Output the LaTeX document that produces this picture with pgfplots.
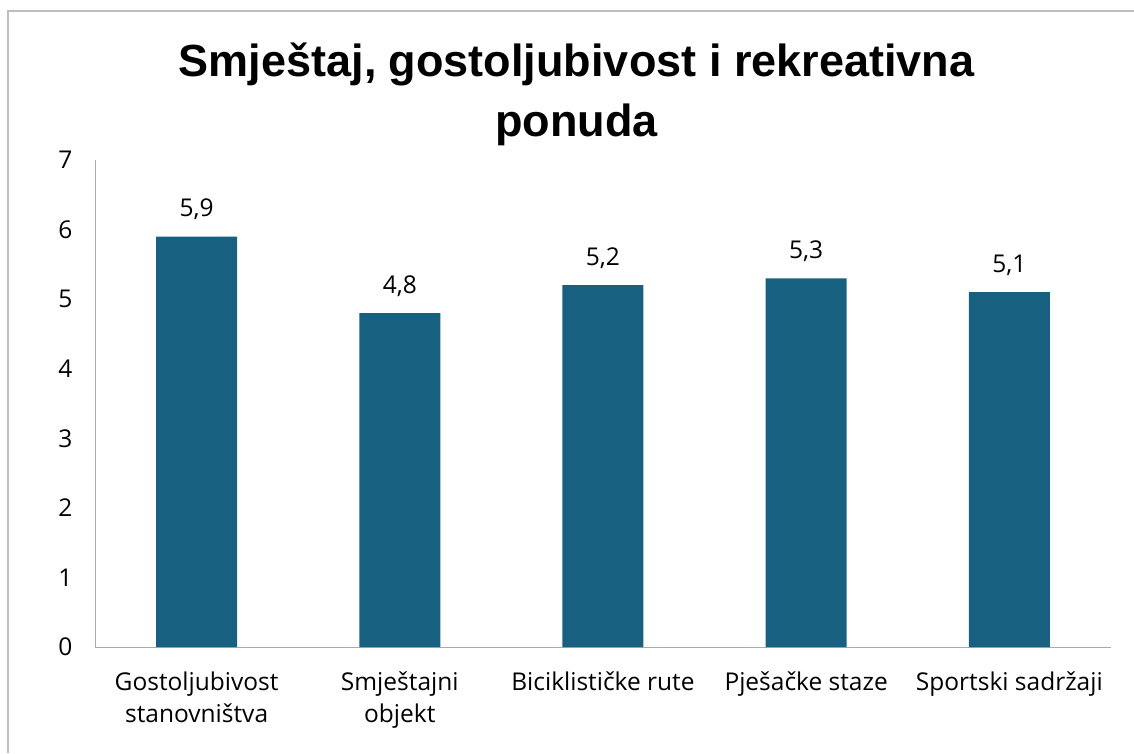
\documentclass[border=0pt]{standalone}
\usepackage{pgfplots}
\pgfplotsset{compat=1.18}
\usepackage{fontspec}
\setmainfont{Open Sans}
\newfontfamily\titlefont{Liberation Sans}
\definecolor{barc}{RGB}{23,96,128}
\definecolor{axc}{RGB}{170,170,170}
\definecolor{framec}{RGB}{190,190,190}
\begin{document}
\begin{tikzpicture}
\path[use as bounding box] (0,0) rectangle (1134pt,753pt);
\draw[framec, line width=1.5pt] (8pt,0pt) -- (8pt,742pt) -- (1134pt,742pt);
\begin{axis}[
  at={(95pt,106pt)}, anchor=south west,
  scale only axis, width=1016pt, height=487pt,
  ymin=0, ymax=7, xmin=-0.5, xmax=4.5,
  ybar, bar width=81pt,
  axis x line*=bottom, axis y line*=left,
  axis line style={-, axc, line width=1pt},
  xtick=data,
  xticklabels={{Gostoljubivost\\stanovništva},{Smještajni\\objekt},{Biciklističke rute},{Pješačke staze},{Sportski sadržaji}},
  ytick={0,1,2,3,4,5,6,7},
  major tick length=0pt,
  xticklabel style={align=center, font=\fontsize{24.5}{32}\selectfont, yshift=-21pt},
  yticklabel style={font=\fontsize{24.5}{28}\selectfont, xshift=-19pt},
  /pgf/number format/assume math mode=true,
  title={Smještaj, gostoljubivost i rekreativna\\ponuda},
  title style={font=\titlefont\fontsize{45}{60}\selectfont\bfseries, align=center, anchor=center, at={(0.474,1)}, yshift=60pt},
  nodes near coords,
  nodes near coords style={font=\fontsize{24.5}{28}\selectfont, text=black, anchor=south, yshift=13pt,
    /pgf/number format/.cd, fixed, fixed zerofill, precision=1, use comma, assume math mode=true},
]
\addplot[fill=barc, draw=none] coordinates {(0,5.9) (1,4.8) (2,5.2) (3,5.3) (4,5.1)};
\end{axis}
\end{tikzpicture}
\end{document}
